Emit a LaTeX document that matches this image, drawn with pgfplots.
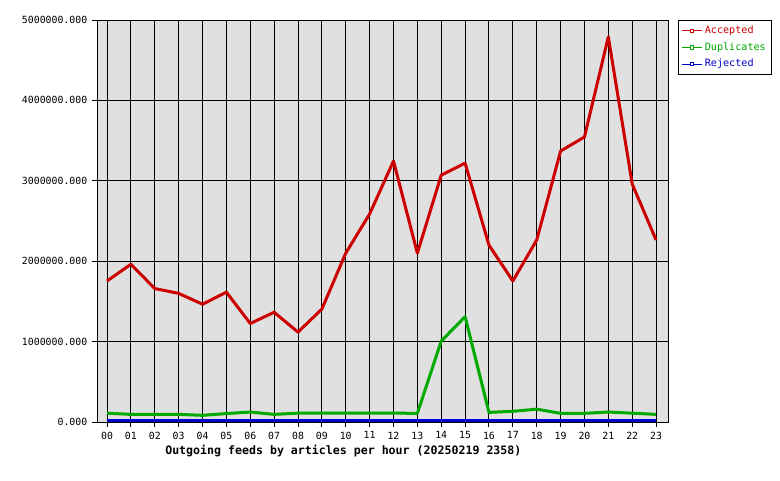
\documentclass[border=0pt]{standalone}
\usepackage{pgfplots}
\pgfplotsset{compat=1.18}
\usepackage{fontspec}
\setmainfont{DejaVu Sans Mono}
\setmonofont{DejaVu Sans Mono}
\definecolor{acc}{RGB}{204,0,0}
\definecolor{dup}{RGB}{0,170,0}
\definecolor{rej}{RGB}{0,0,204}
\definecolor{bg}{RGB}{224,224,224}
\begin{document}
\begin{tikzpicture}
\path[use as bounding box] (0,0) rectangle (585pt,360pt);
\begin{axis}[
  at={(72.75pt,43.5pt)}, anchor=south west,
  scale only axis, width=428.25pt, height=301.5pt,
  xmin=-0.42, xmax=23.5, ymin=0, ymax=5000000,
  axis background/.style={fill=bg},
  axis line style={black, line width=0.75pt},
  xtick={0,...,23},
  xticklabels={00,01,02,03,04,05,06,07,08,09,10,11,12,13,14,15,16,17,18,19,20,21,22,23},
  ytick={0,1000000,2000000,3000000,4000000,5000000},
  yticklabels={0.000,1000000.000,2000000.000,3000000.000,4000000.000,5000000.000},
  tick align=outside, major tick length=3.75pt,
  tick style={black, line width=0.75pt},
  xtick pos=bottom, ytick pos=left,
  grid=major, major grid style={black, line width=0.75pt},
  ticklabel style={font=\fontsize{7.4}{8}\selectfont},
  scaled y ticks=false,
  legend style={at={(rel axis cs:1.0175,1)}, anchor=north west, draw=black, line width=0.75pt,
    font=\fontsize{7.6}{9}\selectfont, inner sep=2pt, row sep=1.2pt},
  legend cell align=left,
  legend image code/.code={\draw[line width=0.75pt] (0pt,0pt)--(15pt,0pt);
    \draw[line width=0.6pt,fill=white] (6.3pt,-1.2pt) rectangle (8.7pt,1.2pt);},
]
\addplot[acc, line width=2.25pt, line join=round] coordinates {
(0,1754000) (1,1962000) (2,1660000) (3,1600000) (4,1465000) (5,1615000)
(6,1225000) (7,1365000) (8,1118000) (9,1405000) (10,2100000) (11,2587000)
(12,3246000) (13,2100000) (14,3070000) (15,3220000) (16,2200000) (17,1754000)
(18,2264000) (19,3370000) (20,3545000) (21,4790000) (22,2960000) (23,2264000)};
\addlegendentry{\textcolor{acc}{Accepted}}
\addplot[dup, line width=2.25pt, line join=round] coordinates {
(0,110000) (1,95000) (2,95000) (3,95000) (4,83000) (5,105000)
(6,124000) (7,95000) (8,110000) (9,110000) (10,110000) (11,110000)
(12,110000) (13,108000) (14,1007000) (15,1310000) (16,120000) (17,133000)
(18,160000) (19,108000) (20,108000) (21,124000) (22,110000) (23,95000)};
\addlegendentry{\textcolor{dup}{Duplicates}}
\addplot[rej, line width=2.25pt] coordinates {
(0,20000) (1,20000) (2,20000) (3,20000) (4,20000) (5,20000)
(6,20000) (7,20000) (8,20000) (9,20000) (10,20000) (11,20000)
(12,20000) (13,20000) (14,20000) (15,20000) (16,20000) (17,20000)
(18,20000) (19,20000) (20,20000) (21,20000) (22,20000) (23,20000)};
\addlegendentry{\textcolor{rej}{Rejected}}
\end{axis}
\node[anchor=west, font=\bfseries\fontsize{8.7}{10}\selectfont, inner sep=0pt] at (123.75pt,21.75pt) {Outgoing feeds by articles per hour (20250219 2358)};
\end{tikzpicture}
\end{document}
